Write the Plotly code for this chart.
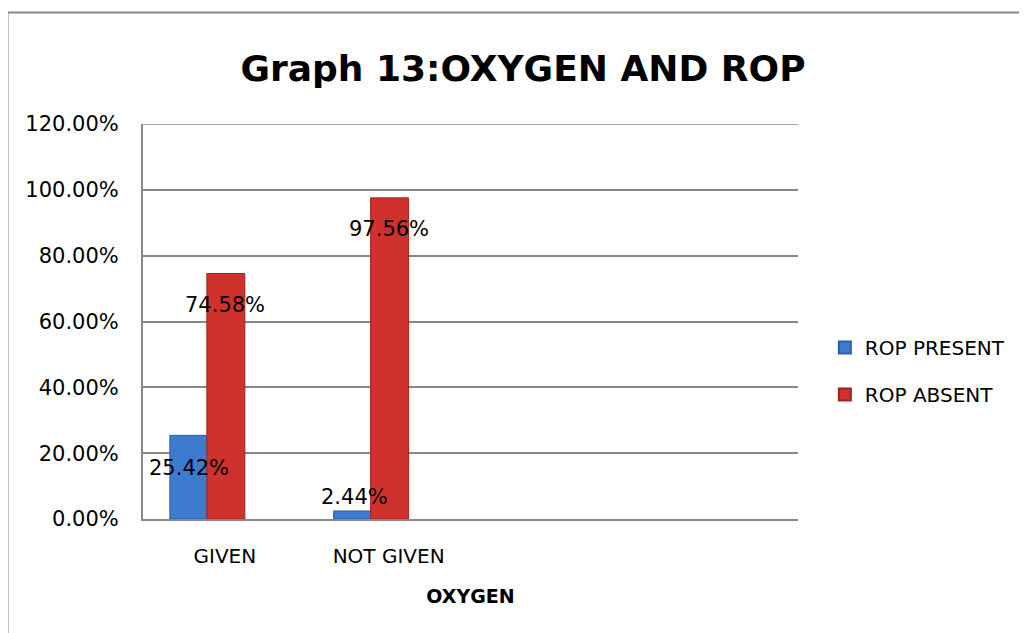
import plotly.graph_objects as go

categories = ["GIVEN", "NOT GIVEN", " ", "  "]
rop_present = [25.42, 2.44, None, None]
rop_absent = [74.58, 97.56, None, None]
y_ticks = [0, 20, 40, 60, 80, 100, 120]
y_tick_labels = ["0.00%", "20.00%", "40.00%", "60.00%", "80.00%", "100.00%", "120.00%"]

FONT = "DejaVu Sans"
blue = "#3d7bcf"
red = "#cf322d"

fig = go.Figure()
fig.add_trace(go.Bar(
    x=categories, y=rop_present, name="ROP PRESENT", legendgroup="a",
    marker=dict(color=blue, line=dict(color="#2c5fa8", width=1)),
    offset=-0.336, width=0.232, hoverinfo="skip",
))
fig.add_trace(go.Bar(
    x=categories, y=rop_absent, name="ROP ABSENT", legendgroup="b",
    marker=dict(color=red, line=dict(color="#9e2320", width=1)),
    offset=-0.11, width=0.232, hoverinfo="skip",
))

# data labels (Excel-style "inside end" placement)
label_specs = [
    (0, rop_present[0], -0.22, -33),
    (1, rop_present[1], -0.21, 14),
    (0, rop_absent[0], 0.0, -31),
    (1, rop_absent[1], 0.0, -31),
]
for ci, v, dx, ys in label_specs:
    fig.add_annotation(
        x=ci + dx, y=v, xref="x", yref="y", text=f"{v:.2f}%",
        showarrow=False, yshift=ys, font=dict(family=FONT, size=21, color="#000"),
        xanchor="center", yanchor="middle",
    )

# top gridline at 120%
fig.add_shape(type="line", xref="paper", yref="y", x0=0, x1=1, y0=120, y1=120,
              line=dict(color="#888", width=1.5))
# outer chart border (top and left)
fig.add_shape(type="line", xref="paper", yref="paper", x0=-0.212, x1=1.36, y0=1.2823, y1=1.2823,
              line=dict(color="#888", width=2))
fig.add_shape(type="line", xref="paper", yref="paper", x0=-0.2069, x1=-0.2069, y0=1.2823, y1=-0.32,
              line=dict(color="#888", width=2))

fig.update_layout(
    width=1027, height=633,
    margin=dict(l=135, r=237, t=116, b=122),
    paper_bgcolor="white", plot_bgcolor="white",
    barmode="overlay",
    title=dict(text="<b>Graph 13:OXYGEN AND ROP</b>", x=515 / 1027, xanchor="center",
               y=1 - 60 / 633, yanchor="middle", yref="container",
               font=dict(family=FONT, size=36, color="#000")),
    legend=dict(x=1.041, y=0.375, xanchor="left", yanchor="middle",
                font=dict(family=FONT, size=20, color="#000"),
                itemsizing="constant", tracegroupgap=18, traceorder="grouped"),
    showlegend=True,
    font=dict(family=FONT, size=20, color="#000"),
)
fig.update_xaxes(
    range=[-0.5, 3.5], showgrid=False, showline=True, linecolor="#888", linewidth=2,
    ticks="", ticklabelstandoff=18, tickfont=dict(family=FONT, size=20, color="#000"),
    title=dict(text="<b>OXYGEN</b>", font=dict(family=FONT, size=19, color="#000"), standoff=23),
    zeroline=False, fixedrange=True,
)
fig.update_yaxes(
    range=[0, 120], tickvals=y_ticks, ticktext=y_tick_labels,
    showgrid=True, gridcolor="#888", gridwidth=1.5,
    showline=True, linecolor="#888", linewidth=2, ticks="",
    ticklabelstandoff=18, tickfont=dict(family=FONT, size=21, color="#000"),
    zeroline=False, fixedrange=True,
)

fig.write_html("out.html")
